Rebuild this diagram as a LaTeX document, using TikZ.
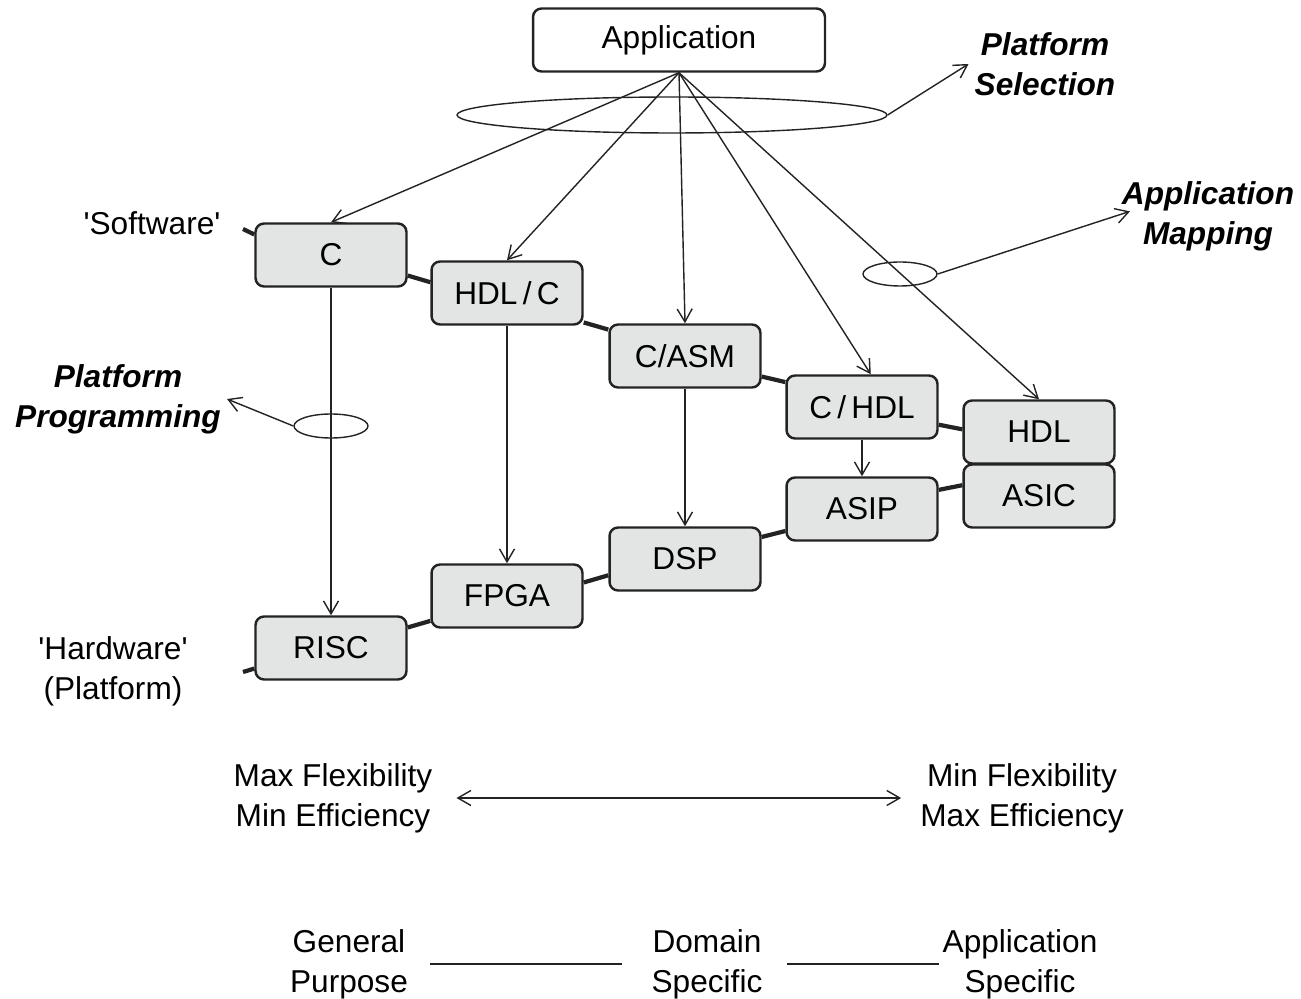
\documentclass[tikz,border=0pt]{standalone}
\usepackage{fontspec}
\setmainfont{Liberation Sans}
\usetikzlibrary{arrows.meta,shapes.geometric}
\definecolor{boxgray}{RGB}{227,229,229}
\definecolor{inkgray}{RGB}{35,35,35}
\begin{document}
\begin{tikzpicture}[x=0.02cm,y=-0.02cm,
	font=\fontsize{18}{22.7}\selectfont,
	>={Straight Barb[length=2.6mm,width=3mm]},
	box/.style={draw=inkgray,line width=1.4pt,fill=boxgray,rounded corners=0.17cm,
		minimum width=3.02cm,minimum height=1.26cm,inner sep=0pt},
	link/.style={inkgray,line width=2.4pt},
	flow/.style={inkgray,line width=0.8pt,->},
	ring/.style={draw=inkgray,line width=0.8pt,ellipse,inner sep=0pt},
	note/.style={font=\fontsize{18}{22.7}\selectfont\bfseries\itshape,align=center}]
	\useasboundingbox (0,0) rectangle (1301,999);
	% application and platform boxes
	\node[box,fill=white,minimum width=5.84cm] (app) at (679,40) {Application};
	\node[box] (c) at (331,255) {C};
	\node[box] (hdlc) at (507,293) {HDL\,/\,C};
	\node[box] (casm) at (685,356) {C/ASM};
	\node[box] (chdl) at (862,407) {C\,/\,HDL};
	\node[box] (hdl) at (1039,432) {HDL};
	\node[box] (asic) at (1039,496) {ASIC};
	\node[box] (asip) at (862,509) {ASIP};
	\node[box] (dsp) at (685,559) {DSP};
	\node[box] (fpga) at (507,596) {FPGA};
	\node[box] (risc) at (331,648) {RISC};
	% software and hardware chains
	\coordinate (swstub) at (243,229);
	\coordinate (hwstub) at (243,672);
	\draw[link] (swstub) -- (c.165);
	\draw[link] (c.-15) -- (hdlc.172);
	\draw[link] (hdlc.-21) -- (casm.161);
	\draw[link] (casm.-15) -- (chdl.162);
	\draw[link] (chdl.-13) -- (hdl.178);
	\draw[link] (hwstub) -- (risc.-165);
	\draw[link] (risc.15) -- (fpga.-162);
	\draw[link] (fpga.10) -- (dsp.-168);
	\draw[link] (dsp.16) -- (asip.-164);
	\draw[link] (asip.14) -- (asic.172);
	% mapping arrows
	\draw[flow] (app.south) -- (c.north);
	\draw[flow] (app.south) -- (hdlc.north);
	\draw[flow] (app.south) -- (casm.north);
	\draw[flow] (app.south) -- (chdl.75);
	\draw[flow] (app.south) -- (hdl.north);
	\draw[flow] (c.south) -- (risc.north);
	\draw[flow] (hdlc.south) -- (fpga.north);
	\draw[flow] (casm.south) -- (dsp.north);
	\draw[flow] (chdl.south) -- (asip.north);
	% rings and notes
	\node[ring,minimum width=8.6cm,minimum height=0.72cm] (selring) at (672,115) {};
	\node[ring,minimum width=1.48cm,minimum height=0.48cm] (mapring) at (900,274) {};
	\node[ring,minimum width=1.48cm,minimum height=0.48cm] (progring) at (331,426) {};
	\node[note] (selnote) at (1045,64) {Platform\\Selection};
	\node[note] (mapnote) at (1208,216) {Application\\Mapping};
	\node[note] (prognote) at (118,399) {Platform\\Programming};
	\draw[flow] (selring.east) -- (selnote.west);
	\draw[flow,shorten >=-0.3cm] (mapring.east) -- (mapnote.west);
	\draw[flow] (progring.west) -- (prognote.east);
	% side labels
	\node (swlabel) at (152,223) {\textquotesingle Software\textquotesingle};
	\node[align=center] (hwlabel) at (113,671) {\textquotesingle Hardware\textquotesingle\\(Platform)};
	% flexibility scale
	\node[align=center] (maxflex) at (333,798) {Max Flexibility\\Min Efficiency};
	\node[align=center] (minflex) at (1022,798) {Min Flexibility\\Max Efficiency};
	\draw[flow,<->,shorten <=0.36cm,shorten >=0.26cm] (maxflex.east) -- (minflex.west);
	\node[align=center] (general) at (349,964) {General\\Purpose};
	\node[align=center] (domain) at (707,964) {Domain\\Specific};
	\node[align=center] (appspec) at (1020,964) {Application\\Specific};
	\draw[inkgray,line width=0.8pt,shorten <=0.32cm,shorten >=0.46cm] (general.east) -- (domain.west);
	\draw[inkgray,line width=0.8pt,shorten <=0.36cm,shorten >=-0.06cm] (domain.east) -- (appspec.west);
\end{tikzpicture}
\end{document}
